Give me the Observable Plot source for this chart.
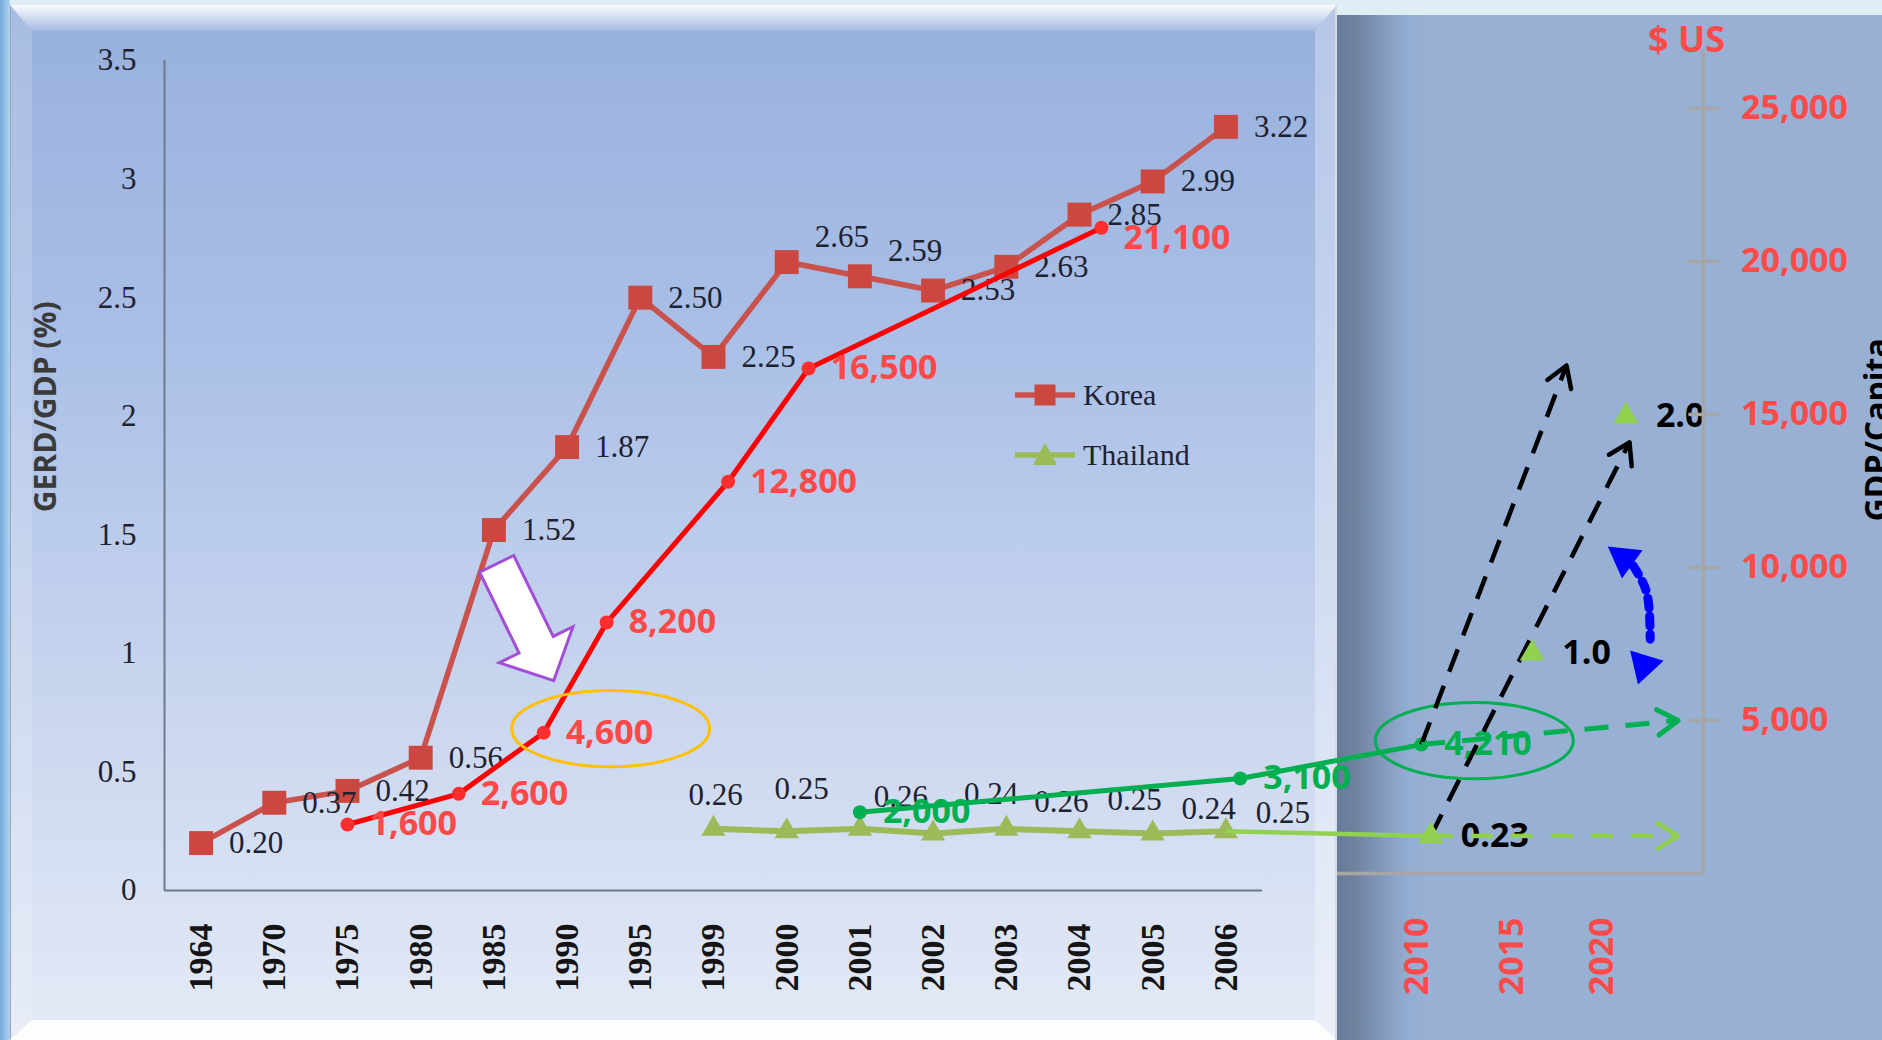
<!DOCTYPE html>
<html>
<head>
<meta charset="utf-8">
<script src="https://cdn.jsdelivr.net/npm/d3@7"></script>
<script src="https://cdn.jsdelivr.net/npm/@observablehq/plot@0.6"></script>
<style>
  html, body { margin: 0; padding: 0; width: 1882px; height: 1040px; overflow: hidden; background: #dfeef4; }
  #stage { position: relative; width: 1882px; height: 1040px; overflow: hidden; }
  .layer { position: absolute; }
  #edge { left: 0; top: 0; width: 10px; height: 1040px; background: linear-gradient(to right, #76abe0, #b3d2ef); }
  #card { left: 10px; top: 5px; width: 1327px; height: 1035px;
          background: linear-gradient(to bottom, #97b0dc 0%, #a8bee6 30%, #c3d1ed 60%, #d8e1f3 85%, #e4eaf6 100%); }
  #bevel-top { left: 10px; top: 5px; width: 1327px; height: 26px;
          clip-path: polygon(0 0, 100% 0, calc(100% - 22px) 100%, 22px 100%);
          background: linear-gradient(to bottom, rgba(255,255,255,0.95), rgba(255,255,255,0.12)); }
  #bevel-left { left: 10px; top: 5px; width: 22px; height: 1035px;
          clip-path: polygon(0 0, 100% 26px, 100% calc(100% - 20px), 0 100%);
          background: rgba(255,255,255,0.16); border-left: 1px solid #9aa6b4; box-sizing: border-box; }
  #bevel-right { left: 1315px; top: 5px; width: 22px; height: 1035px;
          clip-path: polygon(0 26px, 100% 0, 100% 100%, 0 calc(100% - 20px));
          background: rgba(255,255,255,0.3); }
  #bevel-bottom { left: 10px; top: 1020px; width: 1327px; height: 20px;
          clip-path: polygon(22px 0, calc(100% - 22px) 0, 100% 100%, 0 100%);
          background: rgba(255,255,255,0.9); }
  #card-edge { left: 1335px; top: 5px; width: 2px; height: 1035px; background: #d5dce6; }
  #panel { left: 1337px; top: 15px; width: 545px; height: 1025px;
          background: linear-gradient(to right, #677b99 0px, #6f839f 18px, #8299bd 45px, #93acd1 70px, #97b0d4 90px); }
  #chart { left: 0; top: 0; }
  #legend { left: 1013px; top: 365px; font-family: 'Liberation Serif', 'Times New Roman', serif; font-size: 30px; color: #1c2230; }
  #legend .row { display: flex; align-items: center; height: 60px; }
  #legend svg { margin-right: 6px; }
</style>
</head>
<body>
<div id="stage">
  <div class="layer" id="edge"></div>
  <div class="layer" id="card"></div>
  <div class="layer" id="bevel-top"></div>
  <div class="layer" id="bevel-left"></div>
  <div class="layer" id="bevel-right"></div>
  <div class="layer" id="bevel-bottom"></div>
  <div class="layer" id="card-edge"></div>
  <div class="layer" id="panel"></div>
  <div class="layer" id="chart"></div>
  <div class="layer" id="legend"></div>
</div>
<script>
// ---------------- data ----------------
// GERD as % of GDP
const years = [1964, 1970, 1975, 1980, 1985, 1990, 1995, 1999, 2000, 2001, 2002, 2003, 2004, 2005, 2006];
const koreaGerd = [0.20, 0.37, 0.42, 0.56, 1.52, 1.87, 2.50, 2.25, 2.65, 2.59, 2.53, 2.63, 2.85, 2.99, 3.22];
const thaiYears = [1999, 2000, 2001, 2002, 2003, 2004, 2005, 2006];
const thaiGerd = [0.26, 0.25, 0.26, 0.24, 0.26, 0.25, 0.24, 0.25];

// GDP per capita, US $
const koreaGdpYears = [1975, 1982.6, 1988.4, 1992.7, 1999.2, 2000.3, 2004.3];
const koreaGdp = [1600, 2600, 4600, 8200, 12800, 16500, 21100];
const thaiGdpYears = [2001, 2006.3, 2010.2];
const thaiGdp = [2000, 3100, 4210];

// Thailand outlook: GERD targets
const targetYears = [2010.7, 2016.1, 2021.3];
const thaiGerdTargets = [0.23, 1.0, 2.0];

// Outlook paths (end points)
const gdpFastYear = 2018.0, gdpFast = 16600;   // GDP path driven by R&D
const gerdPathYear = 2021.5, gerdPath = 1.89;   // GERD path toward 2 %
const flatYear = 2024.2, gdpFlat = 5000;        // GDP path without change

// Axes
const outlookYears = [2010, 2015, 2020];
const gerdTicks = [0, 0.5, 1, 1.5, 2, 2.5, 3, 3.5];
const gdpTicks = [5000, 10000, 15000, 20000, 25000];
const gdpAxisTop = 26900;

// ---------------- layout ----------------
const W = 1882, H = 1040;
const frame = {left: 164, right: 1262, top: 60, bottom: 890};
const step = (frame.right - frame.left) / years.length;
const xDomain = [...years, ...outlookYears];
const xRange = [...years.map((_, i) => frame.left + step * (i + 0.5)), 1417, 1512, 1602];
const yDomain = [0, 3.5], yRange = [frame.bottom, frame.top];
const xs = d3.scaleLinear(xDomain, xRange), ys = d3.scaleLinear(yDomain, yRange);
const axisStart = xs.invert(frame.left), axisEnd = xs.invert(frame.right);
const panelEdgeYear = xs.invert(1337);
const gdpAxisYear = 2025.6;

// GDP per capita shares the vertical scale: $0 sits slightly above the GERD baseline,
// and 7,750 $ span 1 % of GERD
const GDP_ORIGIN = 0.072, GDP_PER_GERD = 7750;
const g2y = v => GDP_ORIGIN + v / GDP_PER_GERD;

const C = {
  korea: "#c9524c", koreaMark: "#cb4740", thai: "#9bbb59", label: "#1c2230", axis: "#6c7a8c",
  gdpKr: "#ff0000", gdpKrDot: "#ff2e2e", gdpKrText: "#ff4848", gdpTh: "#00b050",
  outlook: "#92d050", gray: "#a6a6a6", blue: "#0000ff", amber: "#ffc000", violet: "#a24fd6", axisRed: "#ff4a4a"
};
const SERIF = "'Liberation Serif', 'Times New Roman', serif";
const SANS = "'Open Sans', 'DejaVu Sans', sans-serif";
const fmt = d3.format(",");

const koreaRows = years.map((year, i) => ({year, v: koreaGerd[i]}));
const thaiRows = thaiYears.map((year, i) => ({year, v: thaiGerd[i]}));
const krGdpRows = koreaGdpYears.map((year, i) => ({year, gdp: koreaGdp[i]}));
const thGdpRows = thaiGdpYears.map((year, i) => ({year, gdp: thaiGdp[i]}));
const targetRows = targetYears.map((year, i) => ({year, v: thaiGerdTargets[i]}));

// ---------------- custom symbols ----------------
const ellipse = aspect => ({
  draw(ctx, size) {
    const rx = Math.sqrt(size / Math.PI), ry = rx * aspect, k = 0.5523;
    ctx.moveTo(rx, 0);
    ctx.bezierCurveTo(rx, ry * k, rx * k, ry, 0, ry);
    ctx.bezierCurveTo(-rx * k, ry, -rx, ry * k, -rx, 0);
    ctx.bezierCurveTo(-rx, -ry * k, -rx * k, -ry, 0, -ry);
    ctx.bezierCurveTo(rx * k, -ry, rx, -ry * k, rx, 0);
    ctx.closePath();
  }
});
// block arrow with its tip at the origin, pointing up; r = overall length
const blockArrow = {
  draw(ctx, size) {
    const s = Math.sqrt(size / Math.PI) / 130;
    const pts = [[0, 0], [41, 40], [19, 40], [19, 130], [-19, 130], [-19, 40], [-41, 40]];
    pts.forEach(([x, y], i) => i ? ctx.lineTo(x * s, y * s) : ctx.moveTo(x * s, y * s));
    ctx.closePath();
  }
};
// open arrow head with its tip at the origin, pointing up; r = arm length
const chevron = {
  draw(ctx, size) {
    const a = Math.sqrt(size / Math.PI), t = 32 * Math.PI / 180;
    ctx.moveTo(-a * Math.sin(t), a * Math.cos(t));
    ctx.lineTo(0, 0);
    ctx.lineTo(a * Math.sin(t), a * Math.cos(t));
  }
};
const heading = (a, b) => Math.atan2(xs(b[0]) - xs(a[0]), -(ys(b[1]) - ys(a[1]))) * 180 / Math.PI;

// outlook arrows
const outlookArrows = [
  {from: [thaiGdpYears[2], g2y(thaiGdp[2])], to: [gdpFastYear, g2y(gdpFast)], stroke: "#000", dash: "24,15", width: 4.5},
  {from: [targetYears[0], thaiGerdTargets[0]], to: [gerdPathYear, gerdPath], stroke: "#000", dash: "24,15", width: 4.5},
  {from: [thaiGdpYears[2], g2y(thaiGdp[2])], to: [flatYear, g2y(gdpFlat)], stroke: C.gdpTh, dash: "24,17", width: 5},
  {from: [targetYears[0], thaiGerdTargets[0]], to: [flatYear, thaiGerdTargets[0]], stroke: C.outlook, dash: "22,18", width: 4.5}
];
const arrowMarks = outlookArrows.map(a => [
  Plot.link([a], {x1: d => d.from[0], y1: d => d.from[1], x2: d => d.to[0], y2: d => d.to[1],
    stroke: a.stroke, strokeWidth: a.width, strokeDasharray: a.dash}),
  Plot.dot([a], {x: d => d.to[0], y: d => d.to[1], symbol: chevron, r: 24, rotate: heading(a.from, a.to),
    fill: "none", stroke: a.stroke, strokeWidth: a.width, strokeLinecap: "round", strokeLinejoin: "round"})
]);

// dotted double-headed arrow marking the gap between the two outlooks
const gapCurve = [[2021.7, 1.37], [2022.35, 1.28], [2022.6, 1.18], [2022.65, 1.06]];
const gapHeads = [{x: 2021.2, y: 1.40, angle: -54}, {x: 2022.3, y: 0.95, angle: 197}];

// Thailand GERD labels sit above their markers, nudged clear of each other
const thaiLabelNudge = [[2, -34], [15, -42], [41, -32], [58, -40], [55, -27], [55, -31], [56, -25], [57, -18]];
const raisedKoreaLabels = new Set([2000, 2001]);

const serifLabel = {fontFamily: SERIF, fontSize: 31, fill: C.label};
const sansBold = {fontFamily: SANS, fontWeight: 700, fontSize: 34};
const lastKrGdp = krGdpRows[krGdpRows.length - 1];

const chart = Plot.plot({
  width: W, height: H,
  marginLeft: 0, marginRight: 0, marginTop: 0, marginBottom: 0,
  style: {background: "transparent", overflow: "visible"},
  x: {type: "linear", domain: xDomain, range: xRange, axis: null},
  y: {type: "linear", domain: yDomain, range: yRange, axis: null},
  marks: [
    // GERD chart frame and axes
    Plot.ruleX([axisStart], {y1: 0, y2: 3.5, stroke: C.axis, strokeWidth: 2}),
    Plot.ruleY([0], {x1: () => axisStart, x2: () => axisEnd, stroke: C.axis, strokeWidth: 2}),
    Plot.text(gerdTicks, {x: () => axisStart, y: d => d, text: d => String(d), dx: -28, textAnchor: "end", ...serifLabel}),
    Plot.text(years, {x: d => d, y: () => 0, text: d => String(d), rotate: -90, textAnchor: "end", dy: 33,
      fontFamily: SERIF, fontSize: 34, fontWeight: "bold", fill: "#141414"}),
    Plot.text(["GERD/GDP (%)"], {frameAnchor: "left", y: () => 2.04, dx: 46, rotate: -90, textAnchor: "middle",
      fontFamily: SANS, fontWeight: 700, fontSize: 30, fill: "#3a3a3a"}),

    // Korea GERD
    Plot.line(koreaRows, {x: "year", y: "v", stroke: C.korea, strokeWidth: 5.5}),
    Plot.dot(koreaRows, {x: "year", y: "v", symbol: "square", r: 13.5, fill: C.koreaMark}),
    // Thailand GERD
    Plot.line(thaiRows, {x: "year", y: "v", stroke: C.thai, strokeWidth: 6}),
    Plot.dot(thaiRows, {x: "year", y: "v", symbol: "triangle", r: 9, fill: C.thai}),

    Plot.text(koreaRows, {filter: d => !raisedKoreaLabels.has(d.year), x: "year", y: "v", text: d => d.v.toFixed(2),
      dx: 28, textAnchor: "start", ...serifLabel}),
    Plot.text(koreaRows, {filter: d => raisedKoreaLabels.has(d.year), x: "year", y: "v", text: d => d.v.toFixed(2),
      dx: 28, dy: -25, textAnchor: "start", ...serifLabel}),
    thaiRows.map((row, i) => Plot.text([row], {x: "year", y: "v", text: d => d.v.toFixed(2),
      dx: thaiLabelNudge[i][0], dy: thaiLabelNudge[i][1], ...serifLabel})),

    // Korea GDP per capita
    Plot.line(krGdpRows, {x: "year", y: d => g2y(d.gdp), stroke: C.gdpKr, strokeWidth: 5}),
    Plot.dot(krGdpRows, {x: "year", y: d => g2y(d.gdp), r: 7, fill: C.gdpKrDot}),
    Plot.text(krGdpRows, {filter: d => d !== lastKrGdp, x: "year", y: d => g2y(d.gdp), text: d => fmt(d.gdp),
      dx: 22, textAnchor: "start", ...sansBold, fill: C.gdpKrText}),
    Plot.text([lastKrGdp], {x: "year", y: d => g2y(d.gdp), text: d => fmt(d.gdp),
      dx: 22, dy: 10, textAnchor: "start", ...sansBold, fill: C.gdpKrText}),
    // highlight of the 4,600 turning point
    Plot.dot([krGdpRows[2]], {x: "year", y: d => g2y(d.gdp), symbol: ellipse(0.385), r: 99, dx: 67, dy: -4,
      fill: "none", stroke: C.amber, strokeWidth: 3}),
    Plot.dot([krGdpRows[2]], {x: "year", y: d => g2y(d.gdp), symbol: blockArrow, r: 130, rotate: 154, dx: 10, dy: -52,
      fill: "white", stroke: C.violet, strokeWidth: 3}),

    // Thailand outlook link from the last observed GERD value
    Plot.link([{a: thaiRows[thaiRows.length - 1], b: targetRows[0]}], {x1: d => d.a.year, y1: d => d.a.v,
      x2: d => d.b.year, y2: d => d.b.v, stroke: C.outlook, strokeWidth: 4.5}),

    // Thailand GDP per capita
    Plot.line(thGdpRows, {x: "year", y: d => g2y(d.gdp), stroke: C.gdpTh, strokeWidth: 5}),
    Plot.dot(thGdpRows, {x: "year", y: d => g2y(d.gdp), r: 7, fill: C.gdpTh}),
    Plot.text(thGdpRows, {x: "year", y: d => g2y(d.gdp), text: d => fmt(d.gdp), dx: 23, textAnchor: "start",
      ...sansBold, fill: C.gdpTh}),
    Plot.dot([thGdpRows[2]], {x: "year", y: d => g2y(d.gdp), symbol: ellipse(0.385), r: 99, dx: 53, dy: -4,
      fill: "none", stroke: C.gdpTh, strokeWidth: 3}),

    // GERD targets
    Plot.text(targetRows, {x: "year", y: "v", text: d => d.v % 1 === 0 ? d.v.toFixed(1) : String(d.v),
      dx: 30, textAnchor: "start", ...sansBold, fill: "#000"}),
    arrowMarks,
    Plot.dot(targetRows, {x: "year", y: "v", symbol: "triangle", r: 9.3, fill: C.outlook}),

    // gap arrow
    Plot.line(gapCurve, {x: d => d[0], y: d => d[1], curve: "natural", stroke: C.blue, strokeWidth: 9, strokeDasharray: "10,8"}),
    Plot.dot(gapHeads, {x: "x", y: "y", symbol: "triangle", r: 13, rotate: "angle", fill: C.blue}),

    // GDP per capita axis of the outlook panel
    Plot.ruleX([gdpAxisYear], {y1: () => g2y(0), y2: () => g2y(gdpAxisTop), stroke: C.gray, strokeWidth: 3.5}),
    Plot.ruleY([g2y(0)], {x1: () => panelEdgeYear, x2: () => gdpAxisYear, stroke: C.gray, strokeWidth: 3.5}),
    Plot.ruleY(gdpTicks, {y: g2y, x1: () => gdpAxisYear - 0.8, x2: () => gdpAxisYear + 0.9, stroke: C.gray, strokeWidth: 3.5}),
    Plot.text(gdpTicks, {y: g2y, x: () => gdpAxisYear + 2.1, text: fmt, textAnchor: "start",
      ...sansBold, fill: C.axisRed, ariaLabel: "gdp-ticks"}),
    Plot.text(["$ US"], {x: () => gdpAxisYear - 0.93, y: () => g2y(gdpAxisTop), lineAnchor: "bottom", dy: 2,
      ...sansBold, fontSize: 36, fill: C.axisRed, ariaLabel: "gdp-unit"}),
    Plot.text(["GDP/Capita"], {frameAnchor: "right", y: () => g2y(14500), dx: -17, rotate: -90, lineAnchor: "top",
      textAnchor: "middle", fontFamily: SANS, fontWeight: 700, fontSize: 32, fill: "#000"}),
    Plot.text(outlookYears, {x: d => d, y: () => 0, text: d => String(d), rotate: -90, textAnchor: "end", dy: 27,
      ...sansBold, fill: C.axisRed, ariaLabel: "outlook-years"})
  ]
});

chart.querySelectorAll('g[aria-label="gdp-ticks"], g[aria-label="gdp-unit"], g[aria-label="outlook-years"]')
  .forEach(g => g.style.filter = "drop-shadow(1.5px 2px 1.2px rgba(30,30,50,0.5))");
document.getElementById("chart").append(chart);

// legend
const legendItems = [
  {name: "Korea", line: C.korea, fill: C.koreaMark, shape: "square"},
  {name: "Thailand", line: C.thai, fill: C.thai, shape: "triangle"}
];
const legend = document.getElementById("legend");
for (const item of legendItems) {
  const row = document.createElement("div");
  row.className = "row";
  const marker = item.shape === "square"
    ? `<rect x="21.5" y="4.5" width="21" height="21" fill="${item.fill}"/>`
    : `<path d="M32,3 L44,25 L20,25 Z" fill="${item.fill}"/>`;
  row.innerHTML = `<svg width="64" height="30"><line x1="2" y1="15" x2="62" y2="15" stroke="${item.line}" stroke-width="5.5"/>${marker}</svg><span>${item.name}</span>`;
  legend.append(row);
}
</script>
</body>
</html>
